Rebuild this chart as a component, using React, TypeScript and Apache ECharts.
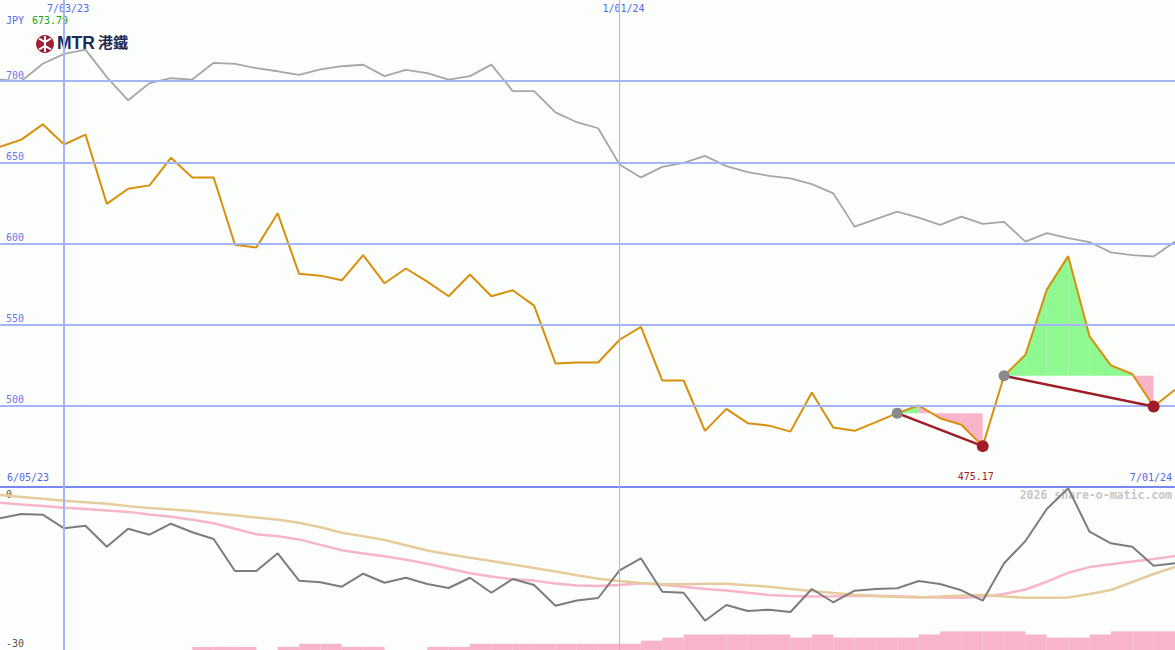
import React, { useEffect, useRef } from "react";
import * as echarts from "echarts";

// Weekly dates (m/dd/yy)
const dates = [
  "6/12/23", "6/19/23", "6/26/23", "7/03/23", "7/10/23", "7/17/23", "7/24/23", "7/31/23",
  "8/07/23", "8/14/23", "8/21/23", "8/28/23", "9/04/23", "9/11/23", "9/18/23", "9/25/23",
  "10/02/23", "10/09/23", "10/16/23", "10/23/23", "10/30/23", "11/06/23", "11/13/23", "11/20/23",
  "11/27/23", "12/04/23", "12/11/23", "12/18/23", "12/25/23", "1/01/24", "1/08/24", "1/15/24",
  "1/22/24", "1/29/24", "2/05/24", "2/12/24", "2/19/24", "2/26/24", "3/04/24", "3/11/24",
  "3/18/24", "3/25/24", "4/01/24", "4/08/24", "4/15/24", "4/22/24", "4/29/24", "5/06/24",
  "5/13/24", "5/20/24", "5/27/24", "6/03/24", "6/10/24", "6/17/24", "6/24/24", "7/01/24",
];
const rangeStartLabel = "6/05/23";
const markerDates = ["7/03/23", "1/01/24"];
const markerWidths = [2, 1];

// MTR share price (JPY-equivalent)
const mtrPrice = [
  659.5, 664.0, 673.4, 661.0, 667.1, 624.4, 633.7, 635.8, 652.8, 640.7,
  640.7, 599.2, 597.5, 618.6, 581.3, 580.2, 577.3, 592.8, 575.5, 584.6,
  576.5, 567.5, 580.9, 567.5, 571.2, 561.7, 526.1, 526.7, 526.7, 540.7,
  548.6, 515.6, 515.6, 484.6, 498.1, 489.3, 487.8, 484.1, 508.2, 486.6,
  484.6, 490.0, 495.5, 500.2, 492.4, 488.3, 475.17, 518.5, 531.5, 571.6,
  592.2, 542.8, 524.9, 519.6, 499.6, 509.9,
];
// Comparison (grey) line
const benchmark = [
  700.9, 700.0, 710.7, 716.8, 719.4, 702.5, 688.2, 698.8, 701.8, 701.0,
  711.3, 710.7, 708.0, 706.1, 703.9, 707.2, 709.2, 710.1, 703.1, 707.0,
  704.9, 701.0, 703.1, 710.2, 693.9, 693.9, 680.8, 674.7, 671.0, 648.7,
  640.7, 647.2, 649.7, 654.0, 647.7, 644.0, 641.7, 640.1, 636.6, 630.9,
  610.4, 615.0, 619.6, 616.0, 611.5, 616.6, 612.1, 613.3, 601.2, 606.4,
  603.3, 600.9, 594.5, 592.9, 592.0, 601.2,
];
// Lower panel
const relative = [
  -3.49, -2.62, -2.76, -5.5, -4.97, -9.2, -5.58, -6.78, -4.57, -6.3,
  -7.65, -14.1, -14.1, -10.53, -16.05, -16.37, -17.26, -14.64, -16.45, -15.45,
  -16.71, -17.52, -15.45, -18.47, -15.7, -16.91, -21.08, -20.03, -19.53, -13.95,
  -11.54, -18.26, -18.47, -24.1, -20.94, -22.15, -21.88, -22.35, -17.72, -20.39,
  -18.06, -17.72, -17.58, -16.11, -16.71, -17.98, -20.07, -12.54, -8.05, -1.61,
  2.56, -6.18, -8.52, -9.2, -13.03, -12.54,
];
const maFast = [
  -0.34, -0.68, -1.01, -1.35, -1.61, -1.89, -2.19, -2.7, -3.18, -3.76,
  -4.47, -5.58, -6.7, -7.09, -7.73, -8.84, -9.93, -10.55, -11.13, -11.84,
  -12.62, -13.59, -14.54, -15.18, -15.76, -16.03, -16.59, -17.01, -17.11, -16.91,
  -16.57, -16.87, -17.27, -17.7, -18.04, -18.48, -18.92, -19.13, -19.25, -19.19,
  -19.11, -19.07, -19.17, -19.31, -19.41, -19.47, -19.27, -18.72, -17.82, -16.25,
  -14.46, -13.31, -12.74, -12.18, -11.68, -11.07,
];
const maSlow = [
  1.21, 0.83, 0.44, 0.06, -0.26, -0.56, -1.03, -1.39, -1.69, -2.01,
  -2.46, -2.88, -3.32, -3.79, -4.39, -5.29, -6.38, -7.09, -7.85, -8.9,
  -9.95, -10.71, -11.41, -12.1, -12.8, -13.49, -14.21, -14.96, -15.66, -16.13,
  -16.51, -16.77, -16.77, -16.65, -16.67, -16.97, -17.25, -17.7, -18.12, -18.52,
  -18.88, -19.13, -19.33, -19.41, -19.23, -19.03, -18.92, -19.23, -19.47, -19.47,
  -19.43, -18.72, -17.92, -16.31, -14.7, -13.29,
];
// Weekly volume level (one per week interval)
const volumeLevel = [
  0, 0, 0, 0, 0, 0, 0, 0, 0, 1, 1, 1, 0, 1, 2, 2, 1, 1, 0, 0,
  1, 1, 2, 2, 2, 2, 2, 2, 2, 2, 3, 4, 5, 5, 5, 5, 5, 4, 5, 4,
  4, 4, 4, 5, 6, 6, 6, 6, 5, 4, 4, 5, 6, 6, 6,
];
const signalStart = [42, 47];
const signalEnd = [46, 54];
const priceGridLevels = [500, 550, 600, 650, 700];
const currencyLabel = "JPY";
const quoteLabel = "673.79";
const watermark = "2026 share-o-matic.com";

const MONO = '"DejaVu Sans Mono", monospace';
const BLUE_TEXT = "#5566ee";
const GRID_BLUE = "#a4b4f4";
const DARK_RED = "#a01c28";

export default function App() {
  const ref = useRef<HTMLDivElement>(null);
  useEffect(() => {
    const chart = echarts.init(ref.current!, null, { renderer: "svg" });

    const markerIdx = markerDates.map((d) => dates.indexOf(d));

    const fillData: number[][] = [];
    signalStart.forEach((s, k) => {
      const level = mtrPrice[s];
      for (let i = s; i < signalEnd[k]; i++) {
        fillData.push([i, mtrPrice[i], mtrPrice[i + 1], level]);
      }
    });

    const trendSeries = signalStart.map((s, k) => ({
      type: "line",
      xAxisIndex: 0,
      yAxisIndex: 0,
      z: 5,
      showSymbol: true,
      lineStyle: { color: DARK_RED, width: 2.5 },
      data: [
        { value: [s, mtrPrice[s]], symbol: "circle", symbolSize: 11, itemStyle: { color: "#8a8a8a" } },
        { value: [signalEnd[k], mtrPrice[signalEnd[k]]], symbol: "circle", symbolSize: 12, itemStyle: { color: DARK_RED } },
      ],
    }));

    const verticalMarks = markerDates.map((d, k) => ({
      xAxis: d,
      lineStyle: { color: GRID_BLUE, width: markerWidths[k], type: "solid" },
    }));

    const option: any = {
      animation: false,
      backgroundColor: "#fcfefc",
      grid: [
        { left: 0, top: 0, width: 1175, height: 487 },
        { left: 0, top: 487, width: 1175, height: 163 },
      ],
      xAxis: [
        {
          type: "category", gridIndex: 0, data: dates, boundaryGap: false, position: "bottom",
          axisLine: { show: true, lineStyle: { color: "#7888f0", width: 2 } },
          axisTick: { show: false }, axisLabel: { show: false }, splitLine: { show: false },
        },
        {
          type: "category", gridIndex: 0, data: dates, boundaryGap: false, position: "top",
          axisLine: { show: false }, axisTick: { show: false }, splitLine: { show: false },
          axisLabel: {
            show: true, inside: true, margin: 3,
            interval: (i: number) => markerIdx.includes(i),
            color: BLUE_TEXT, fontFamily: MONO, fontSize: 10, padding: [0, 0, 0, 8],
          },
        },
        { type: "category", gridIndex: 1, data: dates, boundaryGap: false, show: false },
        { type: "category", gridIndex: 1, data: dates.slice(0, dates.length - 1), boundaryGap: true, show: false },
      ],
      yAxis: [
        {
          type: "value", gridIndex: 0, min: 450, max: 750, interval: 50,
          axisLine: { show: false }, axisTick: { show: false }, splitLine: { show: false },
          axisLabel: {
            inside: true, margin: 6, verticalAlign: "bottom", color: "#6677ee",
            fontFamily: MONO, fontSize: 10, padding: [0, 0, 1, 0],
            formatter: (v: number) => (priceGridLevels.includes(v) ? String(v) : ""),
          },
        },
        {
          type: "value", gridIndex: 1, min: -30, max: 2.82, interval: 30,
          axisLine: { show: false }, axisTick: { show: false }, splitLine: { show: false },
          axisLabel: {
            inside: true, margin: 6, verticalAlign: "bottom", color: "#555555",
            fontFamily: MONO, fontSize: 10, padding: [0, 0, 2, 0],
            formatter: (v: number) => (v === 0 || v === -30 ? String(v) : ""),
          },
        },
        { type: "value", gridIndex: 1, min: 0, max: 52.5, show: false },
      ],
      series: [
        {
          type: "bar", xAxisIndex: 3, yAxisIndex: 2, data: volumeLevel,
          barCategoryGap: "0%", barGap: "0%", itemStyle: { color: "#f8b4c8" }, z: 1,
        },
        {
          type: "custom", xAxisIndex: 0, yAxisIndex: 0, z: 2,
          data: fillData,
          encode: { x: 0, y: [1, 2, 3] },
          renderItem: (params: any, api: any) => {
            const i = api.value(0);
            const v0 = api.value(1);
            const v1 = api.value(2);
            const L = api.value(3);
            const p0 = api.coord([i, v0]);
            const p1 = api.coord([i + 1, v1]);
            const lA = api.coord([i, L]);
            const lB = api.coord([i + 1, L]);
            return {
              type: "polygon",
              shape: { points: [p0, p1, lB, lA] },
              style: { fill: v1 >= L ? "#90f890" : "#f8b4c8" },
            };
          },
        },
        {
          type: "line", xAxisIndex: 0, yAxisIndex: 0, data: benchmark, showSymbol: false, z: 3,
          lineStyle: { color: "#a6a6a6", width: 1.8 },
          markLine: {
            silent: true, symbol: ["none", "none"], label: { show: false },
            data: [
              ...priceGridLevels.map((v) => ({ yAxis: v, lineStyle: { color: GRID_BLUE, width: 2, type: "solid" } })),
              ...verticalMarks,
            ],
          },
        },
        {
          type: "line", xAxisIndex: 0, yAxisIndex: 0, data: mtrPrice, showSymbol: false, z: 4,
          lineStyle: { color: "#d8900c", width: 2 },
          markPoint: {
            symbol: "circle", symbolSize: 0,
            data: [{
              type: "min",
              label: {
                show: true, position: "bottom", distance: 25, offset: [-7, 0],
                color: DARK_RED, fontFamily: MONO, fontSize: 10,
                formatter: (p: any) => Number(p.value).toFixed(2),
              },
            }],
          },
        },
        ...trendSeries,
        {
          type: "line", xAxisIndex: 2, yAxisIndex: 1, data: maFast, showSymbol: false, z: 3,
          lineStyle: { color: "#f8b4c8", width: 2.5 },
        },
        {
          type: "line", xAxisIndex: 2, yAxisIndex: 1, data: maSlow, showSymbol: false, z: 3,
          lineStyle: { color: "#e6cc9c", width: 2.5 },
        },
        {
          type: "line", xAxisIndex: 2, yAxisIndex: 1, data: relative, showSymbol: false, z: 4,
          lineStyle: { color: "#7c7c7c", width: 2 },
          markLine: {
            silent: true, symbol: ["none", "none"], label: { show: false },
            data: verticalMarks,
          },
        },
      ],
      graphic: [
        { type: "text", left: 6, top: 15, style: { text: currencyLabel, fill: BLUE_TEXT, font: `10px ${MONO}` } },
        { type: "text", left: 32, top: 15, style: { text: quoteLabel, fill: "#22a022", font: `10px ${MONO}` } },
        { type: "text", left: 7, top: 472, style: { text: rangeStartLabel, fill: BLUE_TEXT, font: `10px ${MONO}` } },
        { type: "text", right: 3, top: 472, style: { text: dates[dates.length - 1], fill: BLUE_TEXT, font: `10px ${MONO}` } },
        { type: "text", right: 3, top: 489, style: { text: watermark, fill: "#c6c6c6", font: `bold 11.5px ${MONO}` } },
        { type: "circle", shape: { cx: 45, cy: 44, r: 9 }, style: { fill: "#9e1f36" } },
        { type: "line", shape: { x1: 45, y1: 36, x2: 45, y2: 52 }, style: { stroke: "#ffffff", lineWidth: 2 } },
        { type: "polyline", shape: { points: [[39, 38.5], [45, 42], [51, 38.5]] }, style: { stroke: "#ffffff", lineWidth: 2, fill: null } },
        { type: "polyline", shape: { points: [[39, 49.5], [45, 46], [51, 49.5]] }, style: { stroke: "#ffffff", lineWidth: 2, fill: null } },
        { type: "text", left: 57, top: 34, style: { text: "MTR", fill: "#1c2a55", font: 'bold 17.5px "Liberation Sans", Arial, sans-serif' } },
        { type: "text", left: 98, top: 34, style: { text: "港鐵", fill: "#1c2a55", font: 'bold 15px "Noto Sans CJK TC", sans-serif' } },
      ],
    };

    chart.setOption(option);
    return () => chart.dispose();
  }, []);

  return <div ref={ref} style={{ position: "absolute", left: 0, top: 0, width: 1175, height: 650 }} />;
}
